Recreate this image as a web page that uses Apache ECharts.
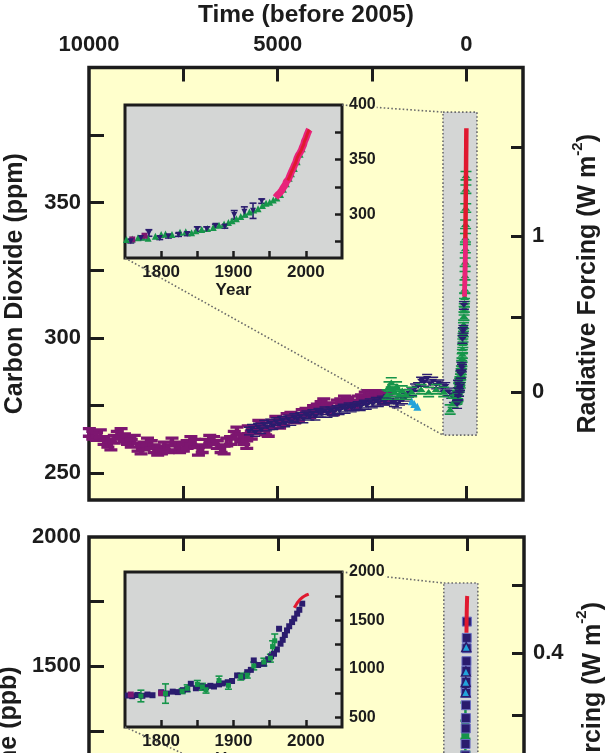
<!DOCTYPE html>
<html><head><meta charset="utf-8">
<script src="https://cdn.jsdelivr.net/npm/echarts@6/dist/echarts.min.js"></script>
<style>html,body{margin:0;padding:0;background:#fff}#c{width:608px;height:753px}</style>
</head><body><div id="c"></div>
<script>
// ---------------- DATA ----------------
const REF_YEAR = 2005;
// main time axis (years before 2005)
const timeTicks = [0, 2500, 5000, 7500];
const timeLabels = [0, 5000, 10000];
// CO2 main axis
const co2Ticks = [250, 275, 300, 325, 350, 375];
const co2Labels = [250, 300, 350];
const co2ForcingTicks = [0, 0.5, 1, 1.5];
const co2ForcingLabels = [0, 1];
// inset axes
const insetYearTicks = [1800, 1850, 1900, 1950, 2000];
const insetYearLabels = [1800, 1900, 2000];
const insetCO2Ticks = [275, 300, 325, 350, 375];
const insetCO2Labels = [300, 350, 400];
// CH4 axes
const ch4Ticks = [500, 750, 1000, 1250, 1500, 1750];
const ch4Labels = [500, 1000, 1500, 2000];
const ch4ForcingTicks = [0.1, 0.2, 0.3, 0.4, 0.5];
const ch4ForcingLabels = [0.2, 0.4];
const insetCH4Ticks = [500, 750, 1000, 1250, 1500, 1750];
const insetCH4Labels = [500, 1000, 1500, 2000];

// CO2, years before 2005 / ppm
const purpleCO2 = [[9990,265],[9900,264],[9800,263.5],[9700,264.5],[9600,262],[9500,261],[9420,260],[9330,262.5],[9250,264],[9150,265],[9060,263],[8980,262],[8880,261],[8800,262.5],[8700,259.5],[8620,258.5],[8540,260],[8450,261.5],[8350,260.5],[8270,259],[8180,258],[8080,258.5],[8000,260],[7900,259],[7800,261.5],[7700,260],[7600,259],[7500,259.5],[7400,260.5],[7300,262],[7200,261],[7100,258],[7000,259],[6900,261],[6800,262.5],[6700,262],[6600,260.5],[6500,259],[6420,258.5],[6350,261.5],[6250,262],[6150,264],[6080,265.5],[5980,263],[5900,262],[5820,260.5],[5780,266],[5700,264],[5600,266],[5500,268],[5420,267],[5320,265.5],[5250,265],[5150,268],[5050,269.5],[4950,268],[4850,269],[4750,270.5],[4650,271],[4550,270],[4450,270.5],[4350,272],[4250,272.5],[4150,272],[4050,273.5],[3950,274],[3850,275],[3780,276],[3700,274],[3600,274.5],[3520,273],[3420,275.5],[3330,276],[3230,277],[3150,276.5],[3050,275],[2950,275.5],[2870,277],[2780,277.5],[2680,278.5],[2600,279],[2500,278],[2400,278.5],[2300,279],[2200,277],[2100,278]];
const navyCO2 = [[5760,265.5],[5680,266.5],[5600,265],[5520,267],[5440,266],[5360,268],[5280,267],[5200,268.5],[5120,267.5],[5040,269],[4960,268],[4880,269.5],[4800,268.5],[4720,270],[4640,269],[4560,270.5],[4480,270],[4400,271],[4320,270],[4240,271.5],[4160,271],[4080,272],[4000,271],[3920,272.5],[3840,272],[3760,273],[3680,272],[3600,273],[3520,272.5],[3440,273.5],[3360,273],[3280,274],[3200,273.5],[3120,274.5],[3040,274],[2960,274.5],[2880,275],[2800,274.5],[2720,275.5],[2640,275],[2560,276],[2480,275.5],[2400,276.5],[2320,276],[2240,277],[2160,276.5],[2080,277.5],[2000,277],[1920,276],[1840,275.5],[1760,276.5],[1680,277],[1600,278],[1520,279.5],[1440,280],[1360,281.5],[1280,282],[1200,284],[1120,283.5],[1040,285],[960,283],[880,284],[800,282.5],[720,283],[640,281.5],[560,282],[480,280],[400,279],[330,277.5]];
const greenCO2 = [[2100,279],[2050,282],[1990,283.5],[1950,281],[1900,280],[1850,282],[1780,279],[1700,280.5],[1600,279],[1450,280],[1200,281],[1000,280],[800,281],[600,280],[430,273.5],[350,276],[300,277]];
const cyanCO2 = [[1450,276.5],[1380,275.5],[1300,274.5]];

// inset CO2 (calendar year / ppm / error)
const insetNavyCO2 = [[1758,275.3,1.5],[1772,278.4,1.5],[1783,282.9,3],[1798,278.4,1.5],[1810,279.8,1.5],[1824,281.3,1.5],[1836,282,1.5],[1850,286.5,2],[1863,286.5,2],[1875,289.5,1.5],[1888,288.8,1.5],[1901,299.4,4],[1915,302.3,4.5],[1927,303.2,7],[1939,312,2]];
const insetPurpleCO2 = [[1760,277],[1777,280.4]];
const insetGreenCO2 = [[1752,277],[1760,277.5],[1768,278.5],[1775,279],[1782,278],[1792,280],[1800,281.5],[1806,282],[1815,281.5],[1826,283.5],[1834,284],[1842,283],[1848,285],[1856,286],[1864,287],[1872,288],[1880,290],[1887,291],[1893,292.5],[1898,294],[1904,296],[1910,298],[1916,300],[1922,302],[1928,304],[1934,305],[1940,308],[1945,310],[1950,311],[1955,313],[1960,315],[1965,318],[1969,323],[1973,328],[1977,333],[1980,337],[1984,342],[1988,348],[1992,355],[1995,360]];
const redCO2 = [[1958,315.3],[1959,316.0],[1960,316.9],[1961,317.6],[1962,318.5],[1963,319.0],[1964,319.6],[1965,320.0],[1966,321.4],[1967,322.2],[1968,323.0],[1969,324.6],[1970,325.7],[1971,326.3],[1972,327.5],[1973,329.7],[1974,330.2],[1975,331.1],[1976,332.0],[1977,333.8],[1978,335.4],[1979,336.8],[1980,338.7],[1981,340.1],[1982,341.4],[1983,343.0],[1984,344.6],[1985,346.0],[1986,347.4],[1987,349.2],[1988,351.6],[1989,353.1],[1990,354.4],[1991,355.6],[1992,356.4],[1993,357.1],[1994,358.9],[1995,360.9],[1996,362.6],[1997,363.8],[1998,366.6],[1999,368.3],[2000,369.5],[2001,371.1],[2002,373.2],[2003,375.0],[2004,376.5],[2005,377.5]];

// inset CH4 (calendar year / ppb / error)
const insetNavyCH4 = [[1754,725],[1760,718],[1767,730],[1774,722],[1781,735],[1788,728],[1800,759],[1808,745],[1816,765],[1823,760],[1830,780],[1836,790],[1841,846],[1848,800],[1855,818],[1862,812],[1868,825],[1873,818],[1880,840],[1885,850],[1892,862],[1898,875],[1905,932],[1912,920],[1919,966],[1924,990],[1928,1087],[1934,1040],[1942,1053],[1948,1100],[1952,1130],[1956,1156],[1960,1200],[1963,1414],[1965,1260],[1968,1300],[1971,1350],[1974,1397],[1977,1440],[1981,1483],[1984,1520],[1988,1570],[1991,1610],[1995,1673]];
const insetPurpleCH4 = [[1758,735],[1800,748]];
const insetGreenCH4 = [[1772,720,60],[1806,745,100],[1829,770,25],[1836,800,35],[1850,840,40],[1857,815,35],[1862,785,35],[1880,880,45],[1893,830,40],[1910,920,35],[1919,935,30],[1928,1030,40],[1942,1070,40],[1951,1110,40],[1954,1230,60],[1957,1290,70]];
const redCH4 = [[1984,1630],[1986,1655],[1988,1680],[1990,1700],[1992,1718],[1994,1730],[1996,1742],[1998,1752],[2000,1760],[2002,1768],[2004,1772]];
const cyanCH4 = [[1978,1575],[1970,1480],[1966,1440],[1962,1400]];

// zoom boxes in main-panel data coordinates [years BP, value]
const zoomBoxCO2 = [[620, 383.5], [-280, 264]];
const zoomBoxCH4 = [[620, 1822], [-280, 700]];

// forcing references
const CO2_0 = 280, CH4_0 = 715, N2O_0 = 270;

// ---------------- helpers ----------------
const toBP = arr => arr.map(d => [REF_YEAR - d[0], d[1]]);
const toBPerr = arr => arr.map(d => [REF_YEAR - d[0], d[1], d[2]]);
const co2FromF = F => CO2_0 * Math.exp(F / 5.35);
const co2F = C => 5.35 * Math.log(C / CO2_0);
function fOv(M, N) { return 0.47 * Math.log(1 + 2.01e-5 * Math.pow(M * N, 0.75) + 5.31e-15 * M * Math.pow(M * N, 1.52)); }
function ch4F(M) { return 0.036 * (Math.sqrt(M) - Math.sqrt(CH4_0)) - (fOv(M, N2O_0) - fOv(CH4_0, N2O_0)); }
function ch4FromF(F) { let lo = CH4_0, hi = 5000; for (let i = 0; i < 60; i++) { const m = (lo + hi) / 2; if (ch4F(m) < F) lo = m; else hi = m; } return (lo + hi) / 2; }

const FONT = 'Liberation Sans';
const INK = '#1c1c1c';
const YEL = '#FFFFCC';
const GRAY = '#D4D6D5';
const C_PURPLE = '#7D1670', C_NAVY = '#2A1C6E', C_GREEN = '#16954A', C_RED = '#E0192F', C_PINK = '#E8237A', C_CYAN = '#23A3DA';

const SYM_IBEAM = 'path://M0,0H12V3H8V7H12V10H0V7H4V3H0Z';
const SYM_TDOWN = 'path://M0,0H12V2H0Z M1,3H11L6,10Z M0,11H12V13H0Z';
const SYM_TUP = 'path://M0,0H12V2H0Z M6,3L11,10H1Z M0,11H12V13H0Z';

function ticks(len, w, vals) { return { show: true, inside: true, length: len, lineStyle: { width: w, color: INK }, customValues: vals }; }
function labels(vals, size, margin, extra) { return Object.assign({ show: true, customValues: vals, fontSize: size, fontWeight: 'bold', fontFamily: FONT, color: INK, margin: margin, formatter: v => String(v) }, extra || {}); }
const noLabel = { show: false };
const base = { type: 'value', axisLine: { show: false, onZero: false }, splitLine: { show: false } };
function ax(o) { return Object.assign({}, base, o); }

function errBar(color, hw, lw) {
  return function (params, api) {
    const x = api.value(0), y = api.value(1), e = api.value(2);
    const hi = api.coord([x, y + e]), lo = api.coord([x, y - e]);
    const st = { stroke: color, lineWidth: lw };
    return { type: 'group', children: [
      { type: 'line', shape: { x1: hi[0], y1: hi[1], x2: lo[0], y2: lo[1] }, style: st },
      { type: 'line', shape: { x1: hi[0] - hw, y1: hi[1], x2: hi[0] + hw, y2: hi[1] }, style: st },
      { type: 'line', shape: { x1: lo[0] - hw, y1: lo[1], x2: lo[0] + hw, y2: lo[1] }, style: st }
    ] };
  };
}

const titleStyle = { fontSize: 25, fontWeight: 'bold', fontFamily: FONT, color: INK };
const rfName = '{m|Radiative Forcing (W m}{s|-2}{m|)}';
const rfStyle = { rich: { m: { fontSize: 25, fontWeight: 'bold', fontFamily: FONT, color: INK, lineHeight: 31, verticalAlign: 'bottom' }, s: { fontSize: 15, fontWeight: 'bold', fontFamily: FONT, color: INK, verticalAlign: 'top', lineHeight: 31 } } };

const chart = echarts.init(document.getElementById('c'), null, { renderer: 'canvas' });

const gridStyle = { show: true, borderColor: INK, borderWidth: 3.5, outerBoundsMode: 'none', containLabel: false };
const option = {
  backgroundColor: '#ffffff',
  animation: false,
  grid: [
    Object.assign({ left: 89, top: 67.5, width: 434, height: 432.5, backgroundColor: YEL }, gridStyle),
    Object.assign({ left: 125, top: 105, width: 217, height: 153, backgroundColor: GRAY, z: 1 }, gridStyle, { borderWidth: 3 }),
    Object.assign({ left: 89, top: 537, width: 435, height: 429.5, backgroundColor: YEL }, gridStyle),
    Object.assign({ left: 125, top: 572, width: 217, height: 155, backgroundColor: GRAY, z: 1 }, gridStyle, { borderWidth: 3 })
  ],
  xAxis: [
    ax({ gridIndex: 0, position: 'top', inverse: true, min: -1500, max: 10000, axisTick: ticks(14, 3, timeTicks), axisLabel: labels(timeLabels, 22, 12),
      name: 'Time (before 2005)', nameLocation: 'middle', nameGap: 40, nameTextStyle: Object.assign({}, titleStyle, { fontSize: 24.5 }) }),
    ax({ gridIndex: 0, position: 'bottom', inverse: true, min: -1500, max: 10000, axisTick: ticks(14, 3, timeTicks), axisLabel: noLabel }),
    ax({ gridIndex: 1, position: 'bottom', min: 1750, max: 2050, axisTick: ticks(7, 2.5, insetYearTicks), axisLabel: labels(insetYearLabels, 17, 6),
      name: 'Year', nameLocation: 'middle', nameGap: 24, nameTextStyle: { fontSize: 17, fontWeight: 'bold', fontFamily: FONT, color: INK }, z: 3 }),
    ax({ gridIndex: 1, position: 'top', min: 1750, max: 2050, axisTick: ticks(7, 2.5, insetYearTicks), axisLabel: noLabel }),
    ax({ gridIndex: 2, position: 'top', inverse: true, min: -1500, max: 10000, axisTick: ticks(14, 3, timeTicks), axisLabel: noLabel }),
    ax({ gridIndex: 3, position: 'bottom', min: 1750, max: 2050, axisTick: ticks(7, 2.5, insetYearTicks), axisLabel: labels(insetYearLabels, 17, 6),
      name: 'Year', nameLocation: 'middle', nameGap: 24, nameTextStyle: { fontSize: 17, fontWeight: 'bold', fontFamily: FONT, color: INK }, z: 3 }),
    ax({ gridIndex: 3, position: 'top', min: 1750, max: 2050, axisTick: ticks(7, 2.5, insetYearTicks), axisLabel: noLabel })
  ],
  yAxis: [
    ax({ gridIndex: 0, position: 'left', min: 240, max: 400, axisTick: ticks(15, 3, co2Ticks), axisLabel: labels(co2Labels, 22, 8),
      name: 'Carbon Dioxide (ppm)', nameLocation: 'middle', nameRotate: 90, nameGap: 61, nameTextStyle: titleStyle }),
    ax({ gridIndex: 0, position: 'right', min: 240, max: 400, axisTick: ticks(12, 3, co2ForcingTicks.map(co2FromF)),
      axisLabel: labels(co2ForcingLabels.map(co2FromF), 22, 9, { formatter: v => String(Math.round(co2F(v) * 10) / 10) }),
      name: rfName, nameLocation: 'middle', nameRotate: 90, nameGap: 47, nameTextStyle: rfStyle }),
    ax({ gridIndex: 1, position: 'right', min: 260, max: 400, axisTick: ticks(7, 2.5, insetCO2Ticks),
      axisLabel: labels(insetCO2Labels, 16, 6, { backgroundColor: YEL, padding: [0, 1, 0, 1] }), z: 3 }),
    ax({ gridIndex: 1, position: 'left', min: 260, max: 400, axisTick: ticks(7, 2.5, insetCO2Ticks), axisLabel: noLabel }),
    ax({ gridIndex: 2, position: 'left', min: 340, max: 2000, axisTick: ticks(15, 3, ch4Ticks), axisLabel: labels(ch4Labels, 22, 8),
      name: 'Methane (ppb)', nameLocation: 'middle', nameRotate: 90, nameGap: 61, nameTextStyle: titleStyle }),
    ax({ gridIndex: 2, position: 'right', min: 340, max: 2000, axisTick: ticks(12, 3, ch4ForcingTicks.map(ch4FromF)),
      axisLabel: labels(ch4ForcingLabels.map(ch4FromF), 22, 9, { formatter: v => ch4F(v).toFixed(1) }),
      name: rfName, nameLocation: 'middle', nameRotate: 90, nameGap: 47, nameTextStyle: rfStyle }),
    ax({ gridIndex: 3, position: 'right', min: 400, max: 2000, axisTick: ticks(7, 2.5, insetCH4Ticks),
      axisLabel: labels(insetCH4Labels, 16, 6, { backgroundColor: YEL, padding: [0, 1, 0, 1] }), z: 3 }),
    ax({ gridIndex: 3, position: 'left', min: 400, max: 2000, axisTick: ticks(7, 2.5, insetCH4Ticks), axisLabel: noLabel })
  ],
  series: [
    // ---- CO2 main panel ----
    { type: 'scatter', xAxisIndex: 0, yAxisIndex: 0, data: purpleCO2, symbol: SYM_IBEAM, symbolSize: [13, 11], itemStyle: { color: C_PURPLE, opacity: 1 } },
    { type: 'scatter', xAxisIndex: 0, yAxisIndex: 0, data: navyCO2, symbol: SYM_TDOWN, symbolSize: [10, 9], itemStyle: { color: C_NAVY, opacity: 1 } },
    { type: 'scatter', xAxisIndex: 0, yAxisIndex: 0, data: cyanCO2, symbol: 'triangle', symbolSize: 8, itemStyle: { color: C_CYAN, opacity: 1 } },
    { type: 'scatter', xAxisIndex: 0, yAxisIndex: 0, data: greenCO2, symbol: SYM_TUP, symbolSize: [11, 11], itemStyle: { color: C_GREEN, opacity: 1 } },
    { type: 'scatter', xAxisIndex: 0, yAxisIndex: 0, data: toBP(insetGreenCO2), symbol: SYM_TUP, symbolSize: [11, 10], itemStyle: { color: C_GREEN, opacity: 1 } },
    { type: 'scatter', xAxisIndex: 0, yAxisIndex: 0, data: toBP(insetNavyCO2), symbol: SYM_TDOWN, symbolSize: [10, 9], itemStyle: { color: C_NAVY, opacity: 1 } },
    { type: 'line', xAxisIndex: 0, yAxisIndex: 0, data: toBP(redCO2), showSymbol: false, lineStyle: { color: C_RED, width: 4.5 } },
    { type: 'line', xAxisIndex: 0, yAxisIndex: 0, data: toBP(redCO2).filter(d => d[1] < 337), showSymbol: false, lineStyle: { color: C_PINK, width: 4.5 } },
    // ---- CO2 inset ----
    { type: 'scatter', xAxisIndex: 2, yAxisIndex: 2, data: insetGreenCO2, symbol: 'triangle', symbolSize: 7, itemStyle: { color: C_GREEN, opacity: 1 } },
    { type: 'scatter', xAxisIndex: 2, yAxisIndex: 2, data: insetPurpleCO2, symbol: 'rect', symbolSize: 6, itemStyle: { color: C_PURPLE, opacity: 1 } },
    { type: 'custom', xAxisIndex: 2, yAxisIndex: 2, data: insetNavyCO2, encode: { x: 0, y: 1 }, renderItem: errBar(C_NAVY, 3.5, 1.6) },
    { type: 'scatter', xAxisIndex: 2, yAxisIndex: 2, data: insetNavyCO2, symbol: 'triangle', symbolRotate: 180, symbolSize: 6, itemStyle: { color: C_NAVY, opacity: 1 } },
    { type: 'line', xAxisIndex: 2, yAxisIndex: 2, data: redCO2, showSymbol: false, lineStyle: { color: C_PINK, width: 7 } },
    { type: 'line', xAxisIndex: 2, yAxisIndex: 2, data: redCO2.filter(d => d[0] >= 1975), showSymbol: false, lineStyle: { color: C_RED, width: 3 } },
    // ---- CH4 main panel (recent spike) ----
    { type: 'custom', xAxisIndex: 4, yAxisIndex: 4, data: toBPerr(insetGreenCH4), encode: { x: 0, y: 1 }, renderItem: errBar(C_GREEN, 5, 2.5) },
    { type: 'scatter', xAxisIndex: 4, yAxisIndex: 4, data: toBP(insetGreenCH4), symbol: 'rect', symbolSize: 8, itemStyle: { color: C_GREEN, opacity: 1 } },
    { type: 'scatter', xAxisIndex: 4, yAxisIndex: 4, data: toBP(insetNavyCH4), symbol: 'rect', symbolSize: 9, itemStyle: { color: C_NAVY, borderColor: '#6a6fc0', borderWidth: 1, opacity: 1 } },
    { type: 'scatter', xAxisIndex: 4, yAxisIndex: 4, data: toBP(cyanCH4), symbol: 'triangle', symbolSize: 9, itemStyle: { color: C_CYAN, borderColor: C_NAVY, borderWidth: 1.5, opacity: 1 } },
    { type: 'line', xAxisIndex: 4, yAxisIndex: 4, data: toBP(redCH4), showSymbol: false, lineStyle: { color: C_RED, width: 4 } },
    // ---- CH4 inset ----
    { type: 'scatter', xAxisIndex: 5, yAxisIndex: 6, data: insetNavyCH4, symbol: 'rect', symbolSize: 6, itemStyle: { color: C_NAVY, opacity: 1 } },
    { type: 'scatter', xAxisIndex: 5, yAxisIndex: 6, data: insetPurpleCH4, symbol: 'rect', symbolSize: 6, itemStyle: { color: C_PURPLE, opacity: 1 } },
    { type: 'custom', xAxisIndex: 5, yAxisIndex: 6, data: insetGreenCH4, encode: { x: 0, y: 1 }, renderItem: errBar(C_GREEN, 3.5, 1.6) },
    { type: 'scatter', xAxisIndex: 5, yAxisIndex: 6, data: insetGreenCH4, symbol: 'rect', symbolSize: 5, itemStyle: { color: C_GREEN, opacity: 1 } },
    { type: 'line', xAxisIndex: 5, yAxisIndex: 6, data: redCH4, showSymbol: false, lineStyle: { color: C_RED, width: 3 } }
  ]
};
chart.setOption(option);

// dotted zoom boxes and connectors, positioned through the axes
function px(xi, yi, pt) { return chart.convertToPixel({ xAxisIndex: xi, yAxisIndex: yi }, pt); }
function boxAndLines(box, xi, yi, ixi, iyi, iTop, iBottom, iLeft, iRight) {
  const a = px(xi, yi, box[0]), b = px(xi, yi, box[1]);
  const tr = px(ixi, iyi, [iRight, iTop]), bl = px(ixi, iyi, [iLeft, iBottom]);
  const dash = { stroke: '#6b6b6b', lineWidth: 1.6, lineDash: [1.6, 2.2] };
  return [
    { type: 'rect', z: 1, shape: { x: a[0], y: a[1], width: b[0] - a[0], height: b[1] - a[1] }, style: Object.assign({ fill: GRAY }, dash) },
    { type: 'line', z: 1, shape: { x1: tr[0], y1: tr[1], x2: a[0], y2: a[1] }, style: dash },
    { type: 'line', z: 1, shape: { x1: bl[0], y1: bl[1], x2: a[0], y2: b[1] }, style: dash }
  ];
}
chart.setOption({ graphic: [].concat(
  boxAndLines(zoomBoxCO2, 0, 0, 2, 2, 400, 260, 1750, 2050),
  boxAndLines(zoomBoxCH4, 4, 4, 5, 6, 2000, 400, 1750, 2050)
) });
</script></body></html>
